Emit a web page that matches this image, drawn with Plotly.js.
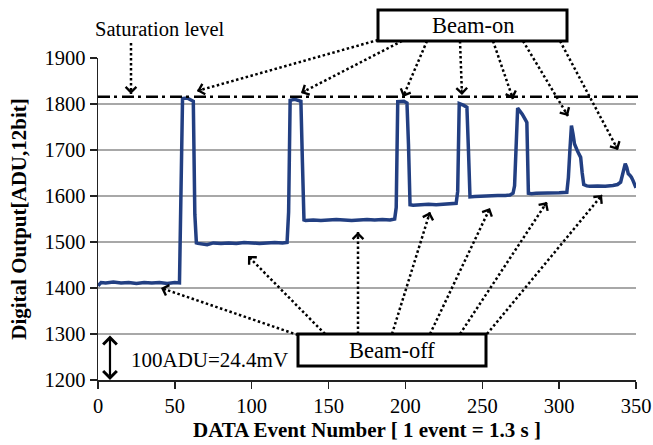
<!DOCTYPE html>
<html>
<head>
<meta charset="utf-8">
<script src="https://cdn.plot.ly/plotly-3.0.1.min.js"></script>
<style>html,body{margin:0;padding:0;background:#fff;}#chart{width:653px;height:445px;}</style>
</head>
<body>
<div id="chart"></div>
<script>
// ---- data ----
const eventNumber = [0,2,5,10,15,20,25,30,35,40,45,50,53,54,55,58,61,62,63,64,65,70,71,75,80,85,90,95,100,105,110,115,120,123,124,125,128,132,133,134,135,140,145,150,155,160,165,170,175,180,185,190,193,194,195,199,201,202,203,205,210,215,220,225,230,233,234,235,238,240,241,242,245,250,255,260,265,268,270,271,273,274,276,278,279,280,282,285,290,295,300,305,306,307,308,309,310,312,314,315,316,318,320,325,330,335,338,340,341,342,343,344,345,346,347,348,349,350];
const digitalOutput = [1405,1412,1411,1413,1411,1412,1410,1412,1411,1412,1410,1412,1411,1617,1812,1813,1809,1806,1560,1498,1497,1496,1494,1498,1497,1498,1497,1499,1498,1497,1498,1499,1498,1499,1565,1808,1810,1806,1672,1548,1547,1548,1547,1548,1549,1548,1547,1548,1549,1548,1549,1548,1550,1575,1805,1806,1802,1711,1581,1580,1581,1582,1581,1582,1583,1584,1610,1801,1797,1793,1700,1598,1599,1600,1600,1601,1601,1602,1606,1622,1791,1787,1778,1766,1760,1606,1605,1606,1606,1607,1607,1608,1640,1700,1753,1735,1713,1697,1684,1650,1625,1622,1621,1622,1621,1623,1625,1630,1642,1658,1670,1662,1648,1645,1641,1634,1626,1618];
const saturationLevel = 1816;
const xTickValues = [0,50,100,150,200,250,300,350];
const yTickValues = [1200,1300,1400,1500,1600,1700,1800,1900];
const xTitle = 'DATA Event Number [ 1 event = 1.3 s ]';
const yTitle = 'Digital Output[ADU,12bit]';

// ---- layout geometry ----
const W = 653, H = 445, ML = 98, MR = 17, MT = 58, MB = 65;
const PW = W - ML - MR, PH = H - MT - MB;
const px = v => (v - ML) / PW;
const py = v => (H - MB - v) / PH;
const FONT = 'Liberation Serif, Times New Roman, serif';

const shapes = [];
const annotations = [];

shapes.push({type:'line', xref:'paper', yref:'y', x0:0, x1:1.008, y0:saturationLevel, y1:saturationLevel,
  line:{color:'black', width:2.5, dash:'12px,4px,3px,5px'}, layer:'above'});

function dotArrow(x0,y0,x1,y1){
  shapes.push({type:'line', xref:'paper', yref:'paper', x0:px(x0), y0:py(y0), x1:px(x1), y1:py(y1),
    line:{color:'black', width:2.5, dash:'2.5px,2.5px'}, layer:'above'});
  const dx = x0 - x1, dy = y0 - y1, L = Math.hypot(dx, dy);
  annotations.push({xref:'paper', yref:'paper', x:px(x1), y:py(y1), ax:dx/L*7, ay:dy/L*7, text:'',
    showarrow:true, arrowhead:4, arrowsize:1.3, arrowwidth:1.6, arrowcolor:'black', standoff:0});
}

// Saturation level arrow
dotArrow(131,43,131,94);
// Beam-on arrows
dotArrow(378,40,197,91);
dotArrow(402,41,301,93);
dotArrow(427,41,403,97);
dotArrow(460,41,462,95);
dotArrow(493,41,513,99);
dotArrow(523,41,568,116);
dotArrow(560,41,618,150);
// Beam-off arrows
dotArrow(298,335,161,288);
dotArrow(325,334,248,256);
dotArrow(358,334,358,232);
dotArrow(392,334,430,212);
dotArrow(430,334,490,208);
dotArrow(460,334,547,202);
dotArrow(487,334,602,195);

// boxes
function box(x0,y0,x1,y1,label){
  shapes.push({type:'rect', xref:'paper', yref:'paper', x0:px(x0), x1:px(x1), y0:py(y1), y1:py(y0),
    line:{color:'black', width:3}, fillcolor:'white', layer:'above'});
  annotations.push({xref:'paper', yref:'paper', x:px((x0+x1)/2), y:py((y0+y1)/2), text:label, showarrow:false,
    xanchor:'center', yanchor:'middle', font:{family:FONT, size:22.5, color:'black'}});
}
box(378,10,567,41,'Beam-on');
box(298,334,486,366,'Beam-off');

annotations.push({xref:'paper', yref:'paper', x:px(160), y:py(29), text:'Saturation level', showarrow:false,
  xanchor:'center', yanchor:'middle', font:{family:FONT, size:20.5, color:'black'}});
annotations.push({xref:'paper', yref:'paper', x:px(209), y:py(360), text:'100ADU=24.4mV', showarrow:false,
  xanchor:'center', yanchor:'middle', font:{family:FONT, size:21, color:'black'}});
// double arrow 100 ADU
annotations.push({xref:'x', yref:'y', x:7.8, y:1200, axref:'x', ayref:'y', ax:7.8, ay:1300, text:'',
  showarrow:true, arrowside:'end+start', arrowhead:4, arrowsize:1.2, arrowwidth:2.2, arrowcolor:'black', standoff:0, startstandoff:0});

const trace = {x:eventNumber, y:digitalOutput, type:'scatter', mode:'lines',
  line:{color:'#223f82', width:3.5}, hoverinfo:'skip'};

const layout = {
  width:W, height:H, margin:{l:ML, r:MR, t:MT, b:MB, pad:0},
  paper_bgcolor:'white', plot_bgcolor:'white', showlegend:false,
  font:{family:FONT, color:'black'},
  xaxis:{range:[0,350], tickvals:xTickValues, ticktext:xTickValues.map(String), showgrid:false, zeroline:false,
    showline:true, linecolor:'#222', linewidth:1.5, ticks:'outside', ticklen:7, tickwidth:1.5, tickcolor:'#222',
    tickfont:{family:FONT, size:20.5, color:'black'},
    title:{text:xTitle, font:{family:FONT, size:21, color:'black', weight:'bold'}, standoff:6}},
  yaxis:{range:[1200,1900], tickvals:yTickValues, ticktext:yTickValues.map(String), showgrid:true, gridcolor:'#a8a8a8', gridwidth:1.5,
    zeroline:false, showline:true, linecolor:'#222', linewidth:1.5, ticks:'outside', ticklen:7, tickwidth:1.5, tickcolor:'#222',
    tickfont:{family:FONT, size:20.5, color:'black'},
    title:{text:yTitle, font:{family:FONT, size:21, color:'black', weight:'bold'}, standoff:12}},
  shapes:shapes, annotations:annotations
};

Plotly.newPlot('chart', [trace], layout, {displayModeBar:false, staticPlot:true});
</script>
</body>
</html>
